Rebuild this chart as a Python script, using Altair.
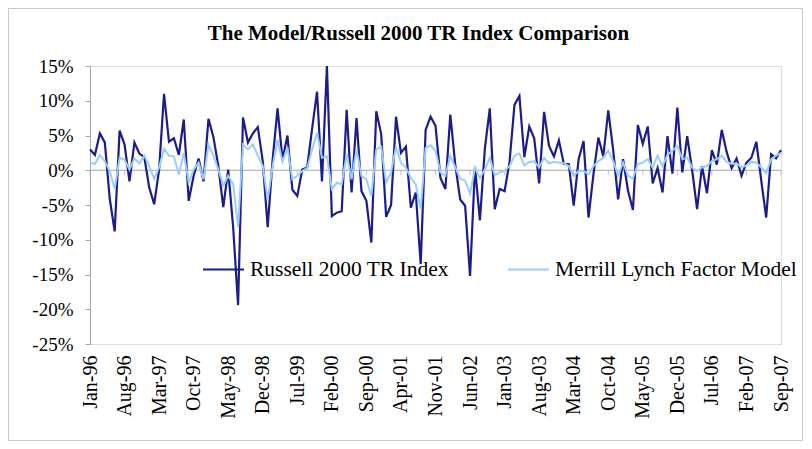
import altair as alt
import pandas as pd

TITLE = "The Model/Russell 2000 TR Index Comparison"
S_R = "Russell 2000 TR Index"
S_M = "Merrill Lynch Factor Model"

months = pd.date_range("1996-01-01", periods=141, freq="MS").strftime("%b-%y").tolist()
tick_labels = months[::7]
y_ticks = [-25, -20, -15, -10, -5, 0, 5, 10, 15]

russell = [
    3.0, 2.2, 5.3, 4.0, -4.1, -8.8, 5.7, 3.7, -1.6, 4.0, 2.4,
    1.9, -2.5, -4.9, 0.1, 11.0, 4.1, 4.6, 2.2, 7.3, -4.4, -0.8, 1.7,
    -1.6, 7.4, 4.8, 0.6, -5.3, 0.1, -8.2, -19.4, 7.6, 4.0, 5.3, 6.2,
    1.3, -8.2, 1.5, 8.9, 1.5, 5.0, -2.8, -3.7, 0.1, 0.4, 6.0, 11.3,
    -1.6, 15.0, -6.6, -6.1, -5.9, 8.7, -3.2, 7.5, -3.0, -4.4, -10.4, 8.5,
    5.2, -6.7, -5.0, 7.7, 2.5, 3.4, -5.4, -3.2, -13.5, 5.8, 7.7, 6.4,
    -1.1, -2.7, 8.0, 0.8, -4.2, -5.1, -15.2, 0.4, -7.2, 3.1, 8.9, -5.6,
    -2.7, -3.0, 1.2, 9.4, 10.7, 1.9, 6.3, 4.6, -1.9, 8.4, 3.5, 2.0,
    4.3, 0.9, 0.9, -5.1, 1.6, 4.2, -6.8, -0.6, 4.7, 2.0, 8.6, 2.9,
    -4.2, 1.6, -2.9, -5.7, 6.5, 3.8, 6.3, -1.9, 0.3, -3.2, 4.9, -0.5,
    9.0, -0.3, 4.9, 0.0, -5.6, 0.6, -3.3, 2.9, 0.8, 5.8, 2.6, 0.3,
    1.7, -0.8, 1.1, 1.8, 4.1, -1.5, -6.8, 2.3, 1.7, 2.9,
]

merrill = [
    1.1, 0.9, 2.2, 1.3, -0.1, -2.7, 1.8, 1.5, 0.1, 1.7, 1.0,
    2.1, 0.6, -1.2, 0.4, 3.1, 2.1, 2.0, -0.6, 2.5, -1.8, 0.1, 1.1,
    -1.3, 3.7, 2.1, 0.1, -2.2, -0.8, -2.0, -8.2, 3.7, 3.0, 3.7, 2.1,
    0.6, -4.2, 0.6, 4.4, 1.2, 3.3, -1.3, -0.8, -0.1, 0.3, 3.0, 5.4,
    1.8, 2.0, -2.7, -1.8, -2.0, 2.3, -1.3, 3.0, -0.8, -1.3, -3.7, 3.0,
    3.4, -1.8, -0.3, 3.4, 1.1, 0.4, -1.1, -2.0, -5.6, 3.2, 3.6, 2.8,
    -0.3, -0.8, 2.1, 0.4, -1.2, -1.5, -3.4, 0.4, -1.1, 0.1, 1.8, -0.7,
    -0.3, -0.1, 0.6, 2.1, 2.4, 0.7, 1.2, 1.3, 0.4, 1.8, 1.0, 1.2,
    1.1, 1.0, 0.6, -0.8, -0.1, -0.1, -0.6, 0.6, 1.3, 1.8, 2.8, 1.3,
    -0.8, 1.1, -0.8, -1.2, 0.9, 1.1, 1.6, 0.4, 2.1, 0.6, 2.2, 2.8,
    3.5, 1.6, 1.8, 0.4, -0.1, 0.4, 0.6, 1.3, 1.6, 2.1, 1.2, 0.9,
    1.0, 0.4, 0.7, 1.2, 1.1, 0.4, -0.4, 1.6, 2.1, 2.5,
]

rows = []
for m, r, f in zip(months, russell, merrill):
    rows.append({"month": m, "series": S_R, "value": r})
    rows.append({"month": m, "series": S_M, "value": f})
df = pd.DataFrame(rows)

FONT = "Liberation Serif"
AXIS_GRAY = "#a6a6a6"
DARK = "#1c1c8c"
LIGHT = "#99ccff"

x_scale = alt.Scale(type="point", domain=months, padding=0)
x_axis = alt.Axis(
    values=tick_labels, labelAngle=-90, domain=False, ticks=False,
    labelFont=FONT, labelFontSize=20, labelColor="black",
    labelPadding=11, title=None, labelOverlap=False,
)
x_enc = alt.X("month:O", scale=x_scale, axis=x_axis)

y_scale = alt.Scale(domain=[-25, 15], nice=False)
y_axis = alt.Axis(
    values=y_ticks, labelExpr="datum.value + '%'", grid=False,
    domainColor=AXIS_GRAY, tickColor=AXIS_GRAY, tickSize=5,
    labelFont=FONT, labelFontSize=19, labelColor="black",
    labelPadding=12, title=None, labelOverlap=False,
)
y_enc = alt.Y("value:Q", scale=y_scale, axis=y_axis)
y_zero = alt.YDatum(0, type="quantitative", scale=y_scale, axis=y_axis)

color_enc = alt.Color(
    "series:N",
    scale=alt.Scale(domain=[S_R, S_M], range=[DARK, LIGHT]),
    legend=alt.Legend(
        orient="none", legendX=112, legendY=182, direction="horizontal",
        title=None, symbolType="stroke", symbolSize=1681, symbolStrokeWidth=2,
        labelFont=FONT, labelFontSize=21.5, labelColor="black", labelOffset=5,
        columnPadding=55, padding=0, labelLimit=400,
    ),
)

border = alt.Chart(pd.DataFrame({"a": [0]})).mark_rect(
    fillOpacity=0, stroke="#c8c8c8", strokeWidth=1
).encode(
    x=alt.value(-81.5), x2=alt.value(712.5), y=alt.value(-57.5), y2=alt.value(374.5)
)

zero = alt.Chart(pd.DataFrame({"a": [0]})).mark_rule(
    color=AXIS_GRAY, strokeWidth=1
).encode(y=y_zero)

ticks = alt.Chart(pd.DataFrame({"month": tick_labels})).mark_tick(
    orient="vertical", size=5, thickness=1, yOffset=2.5, color=AXIS_GRAY
).encode(x=x_enc, y=y_zero)

line_r = alt.Chart(df).transform_filter(
    alt.datum.series == S_R
).mark_line(strokeWidth=2.2).encode(x=x_enc, y=y_enc, color=color_enc)

line_m = alt.Chart(df).transform_filter(
    alt.datum.series == S_M
).mark_line(strokeWidth=2).encode(x=x_enc, y=y_enc, color=color_enc)

chart = alt.layer(border, zero, ticks, line_r, line_m).properties(
    width=691,
    height=278,
    padding={"left": 82, "top": 58, "right": 22, "bottom": 97},
    autosize=alt.AutoSizeParams(type="none"),
    title=alt.TitleParams(
        TITLE, font=FONT, fontSize=21, fontWeight="bold", color="black",
        anchor="middle", dx=-17, offset=-36,
    ),
).configure_view(strokeWidth=0).configure_axisY(labelOverlap=False).configure(
    background="white"
)

chart.save("out.html", embed_options={"renderer": "svg", "actions": False})
